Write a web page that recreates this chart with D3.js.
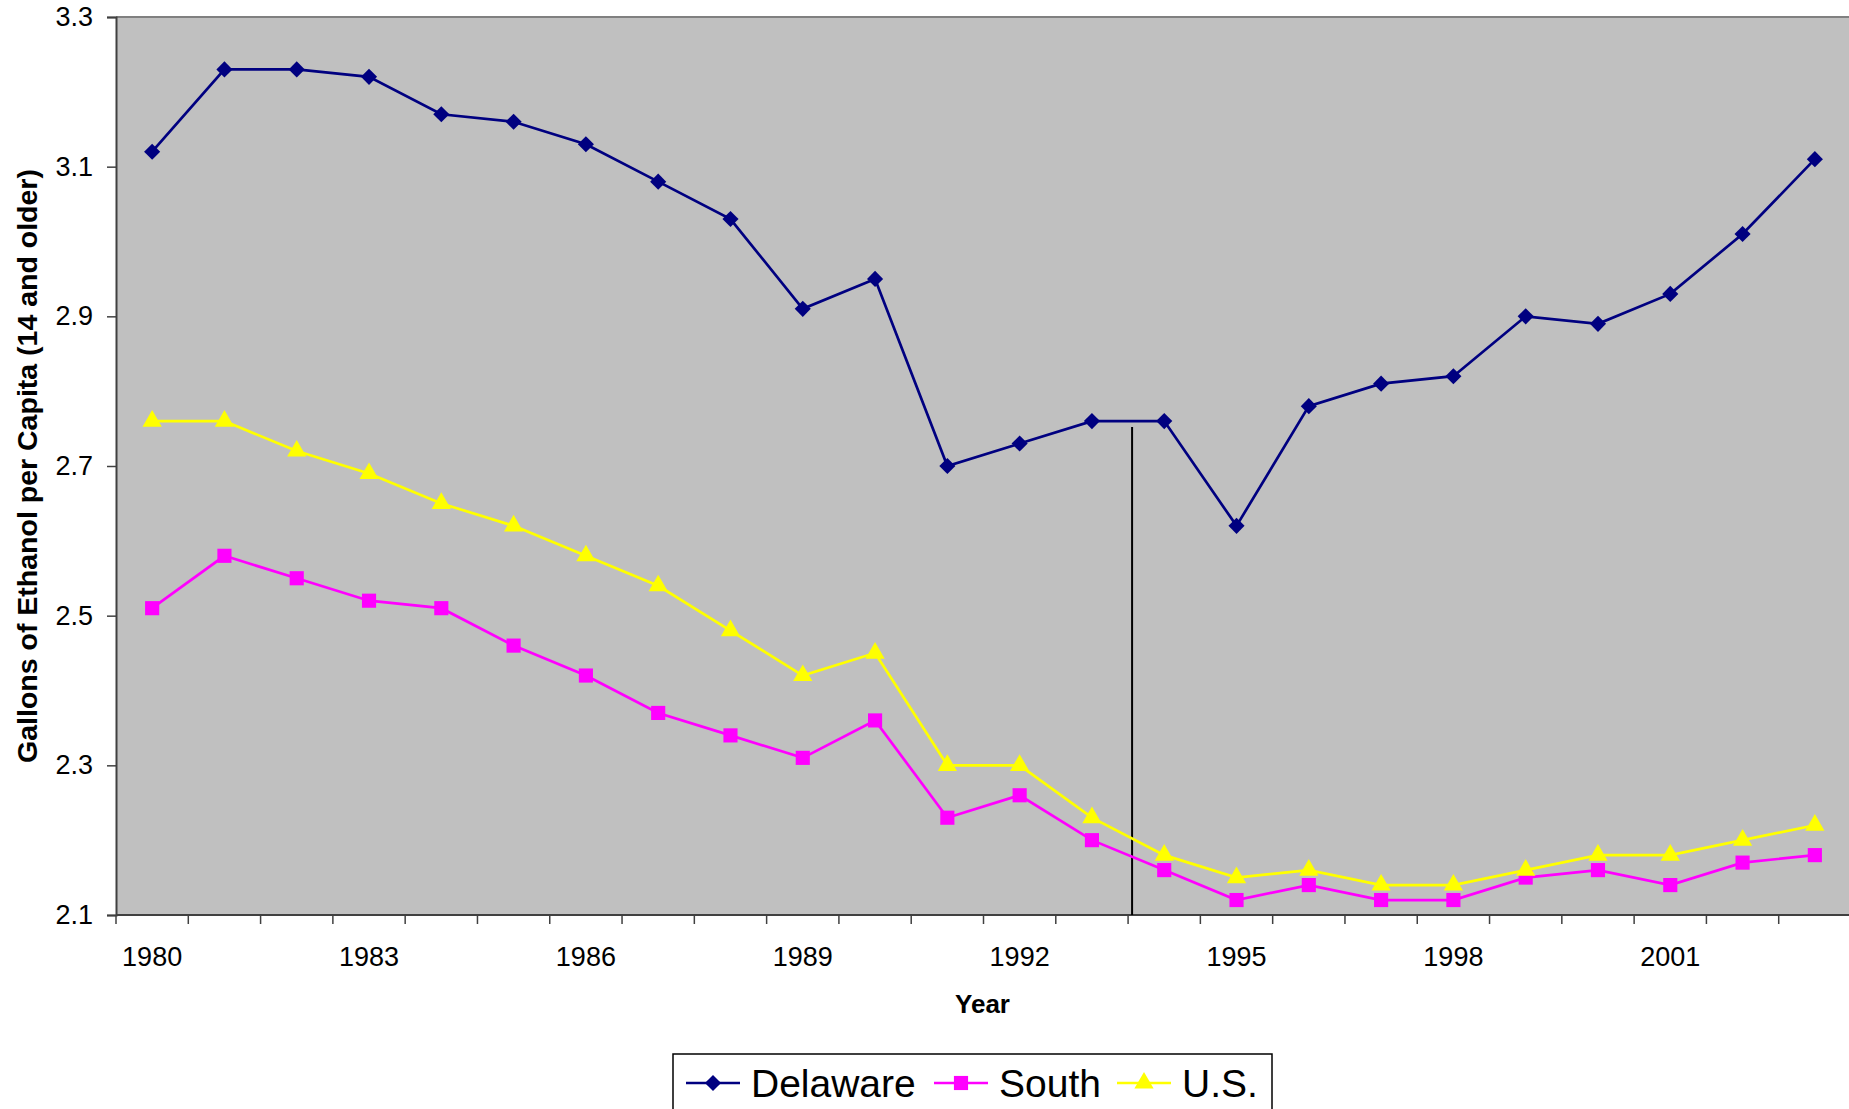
<!DOCTYPE html>
<html>
<head>
<meta charset="utf-8">
<script src="https://cdn.jsdelivr.net/npm/d3@7"></script>
<style>
  html, body { margin: 0; padding: 0; background: #fff; }
  svg { display: block; font-family: "Liberation Sans", Arial, sans-serif; }
</style>
</head>
<body>
<script>
var width = 1849, height = 1109;

// data
var years = d3.range(1980, 2004);
var delaware = [3.12, 3.23, 3.23, 3.22, 3.17, 3.16, 3.13, 3.08, 3.03, 2.91, 2.95, 2.70,
                2.73, 2.76, 2.76, 2.62, 2.78, 2.81, 2.82, 2.90, 2.89, 2.93, 3.01, 3.11];
var south = [2.51, 2.58, 2.55, 2.52, 2.51, 2.46, 2.42, 2.37, 2.34, 2.31, 2.36, 2.23,
             2.26, 2.20, 2.16, 2.12, 2.14, 2.12, 2.12, 2.15, 2.16, 2.14, 2.17, 2.18];
var us = [2.76, 2.76, 2.72, 2.69, 2.65, 2.62, 2.58, 2.54, 2.48, 2.42, 2.45, 2.30,
          2.30, 2.23, 2.18, 2.15, 2.16, 2.14, 2.14, 2.16, 2.18, 2.18, 2.20, 2.22];
var yTicks = [2.1, 2.3, 2.5, 2.7, 2.9, 3.1, 3.3];
var xLabelYears = [1980, 1983, 1986, 1989, 1992, 1995, 1998, 2001];
// vertical marker line between 1993 and 1994
var markerAfterYear = 1993, markerTop = 2.752;

var series = [
    { name: "Delaware", values: delaware, color: "#000080", symbol: d3.symbolSquare, size: 130, rotate: 45 },
    { name: "South", values: south, color: "#FF00FF", symbol: d3.symbolSquare, size: 200, rotate: 0 },
    { name: "U.S.", values: us, color: "#FFFF00", symbol: d3.symbolTriangle, size: 160, rotate: 0 }
];

var plot = { left: 116, top: 17, right: 1851, bottom: 915 };

var svg = d3.select("body").append("svg")
    .attr("width", width)
    .attr("height", height);

var x = d3.scaleBand().domain(years).range([plot.left, plot.right]).padding(0);
var y = d3.scaleLinear().domain([2.1, 3.3]).range([plot.bottom, plot.top]);
var cx = d => x(d) + x.bandwidth() / 2;

// plot background
svg.append("rect")
    .attr("x", plot.left).attr("y", plot.top)
    .attr("width", plot.right - plot.left).attr("height", plot.bottom - plot.top)
    .attr("fill", "#C0C0C0");

svg.append("line")
    .attr("x1", plot.left).attr("x2", plot.right)
    .attr("y1", plot.top).attr("y2", plot.top)
    .attr("stroke", "#808080").attr("stroke-width", 2);

// y axis
var yAxis = svg.append("g")
    .attr("transform", `translate(${plot.left},0)`)
    .call(d3.axisLeft(y).tickValues(yTicks).tickSize(9).tickPadding(14).tickFormat(d3.format(".1f")));
yAxis.select(".domain").attr("stroke", "#404040").attr("stroke-width", 2);
yAxis.selectAll(".tick line").attr("stroke", "#404040").attr("stroke-width", 1.5);
yAxis.selectAll("text")
    .attr("font-size", 27).attr("fill", "#000")
    .attr("font-family", "Liberation Sans, Arial, sans-serif");

// x axis: tick marks at category boundaries
var xAxisG = svg.append("g").attr("transform", `translate(0,${plot.bottom})`);
xAxisG.append("line")
    .attr("x1", plot.left).attr("x2", plot.right)
    .attr("stroke", "#404040").attr("stroke-width", 2);
xAxisG.selectAll(".xtick")
    .data(years)
    .enter().append("line")
    .attr("class", "xtick")
    .attr("x1", d => x(d)).attr("x2", d => x(d))
    .attr("y1", 0).attr("y2", 9)
    .attr("stroke", "#404040").attr("stroke-width", 1.5);
xAxisG.selectAll(".xlabel")
    .data(xLabelYears)
    .enter().append("text")
    .attr("class", "xlabel")
    .attr("x", d => cx(d))
    .attr("y", 51)
    .attr("text-anchor", "middle")
    .attr("font-size", 27)
    .text(d => d);

// axis titles
svg.append("text")
    .attr("x", (plot.left + 1849) / 2)
    .attr("y", 1013)
    .attr("text-anchor", "middle")
    .attr("font-size", 26)
    .attr("font-weight", "bold")
    .text("Year");

svg.append("text")
    .attr("transform", `translate(37,${(plot.top + plot.bottom) / 2}) rotate(-90)`)
    .attr("text-anchor", "middle")
    .attr("font-size", 28.5)
    .attr("font-weight", "bold")
    .text("Gallons of Ethanol per Capita (14 and older)");

// marker line
svg.append("line")
    .attr("x1", x(markerAfterYear) + x.bandwidth() + 4)
    .attr("x2", x(markerAfterYear) + x.bandwidth() + 4)
    .attr("y1", y(markerTop)).attr("y2", plot.bottom)
    .attr("stroke", "#000").attr("stroke-width", 2);

// series lines + markers
var line = d3.line().x((d, i) => cx(years[i])).y(d => y(d));

series.forEach(function(s) {
    svg.append("path")
        .datum(s.values)
        .attr("d", line)
        .attr("fill", "none")
        .attr("stroke", s.color)
        .attr("stroke-width", 2.7);

    svg.append("g").selectAll("path")
        .data(s.values)
        .enter().append("path")
        .attr("transform", (d, i) => `translate(${cx(years[i])},${y(d)}) rotate(${s.rotate})`)
        .attr("d", d3.symbol().type(s.symbol).size(s.size))
        .attr("fill", s.color);
});

// legend
var legend = svg.append("g");
legend.append("rect")
    .attr("x", 673).attr("y", 1054)
    .attr("width", 599).attr("height", 80)
    .attr("fill", "#fff").attr("stroke", "#000").attr("stroke-width", 1.5);

var legendX = [686, 934, 1117];
series.forEach(function(s, i) {
    var g = legend.append("g").attr("transform", `translate(${legendX[i]},1083)`);
    g.append("line")
        .attr("x1", 0).attr("x2", 54)
        .attr("stroke", s.color).attr("stroke-width", 2.7);
    g.append("path")
        .attr("transform", `translate(27,0) rotate(${s.rotate})`)
        .attr("d", d3.symbol().type(s.symbol).size(s.size))
        .attr("fill", s.color);
    g.append("text")
        .attr("x", 65)
        .attr("y", 14)
        .attr("font-size", 39)
        .text(s.name);
});
</script>
</body>
</html>
